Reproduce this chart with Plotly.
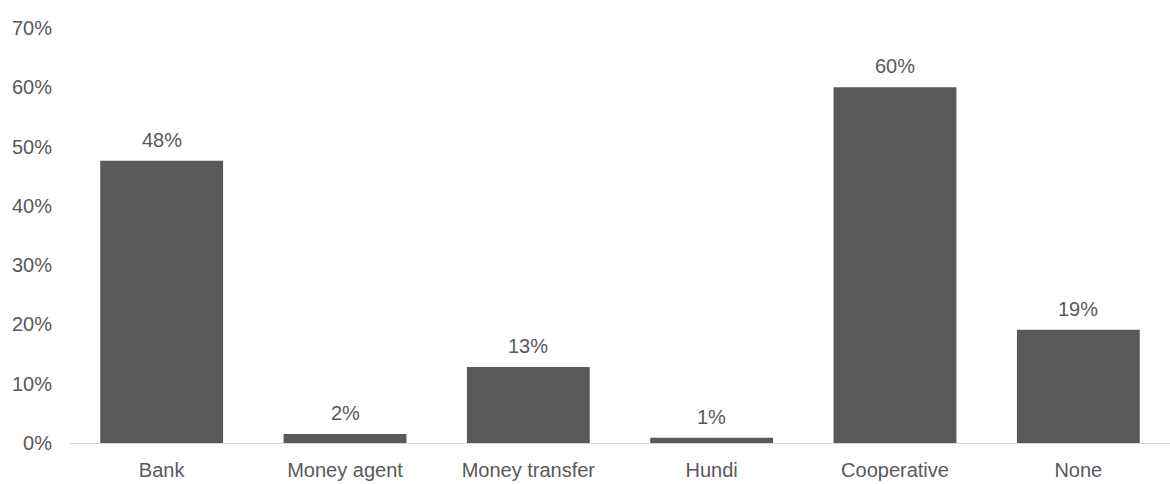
import plotly.graph_objects as go

categories = ["Bank", "Money agent", "Money transfer", "Hundi", "Cooperative", "None"]
values = [47.6, 1.5, 12.8, 0.9, 60.0, 19.1]
y_ticks = [0, 10, 20, 30, 40, 50, 60, 70]
y_tick_labels = ["0%", "10%", "20%", "30%", "40%", "50%", "60%", "70%"]

grey = "#595959"
font = dict(family="Liberation Sans, Arial, sans-serif", size=20, color=grey)

fig = go.Figure()
fig.add_trace(go.Bar(
    x=categories, y=values,
    marker=dict(color=grey, line=dict(width=0)),
    hoverinfo="skip",
))
for c, v in zip(categories, values):
    fig.add_annotation(x=c, y=v, text=f"{v:.0f}%", showarrow=False,
                       yanchor="bottom", yshift=8, font=font)

fig.update_layout(
    width=1170, height=484,
    margin=dict(l=70, r=0, t=28, b=41),
    paper_bgcolor="white", plot_bgcolor="white",
    bargap=0.33, showlegend=False, font=font,
)
fig.update_xaxes(showline=True, linecolor="#d9d9d9", linewidth=1, ticks="",
                 tickfont=font, ticklabelstandoff=9, showgrid=False)
fig.update_yaxes(range=[0, 70], tickvals=y_ticks, ticktext=y_tick_labels,
                 showgrid=False, zeroline=False, showline=False, ticks="",
                 tickfont=font, ticklabelstandoff=17)
fig.write_html("out.html", config={"displayModeBar": False},
               post_script="document.body.style.margin='0';document.body.style.overflow='hidden';")
